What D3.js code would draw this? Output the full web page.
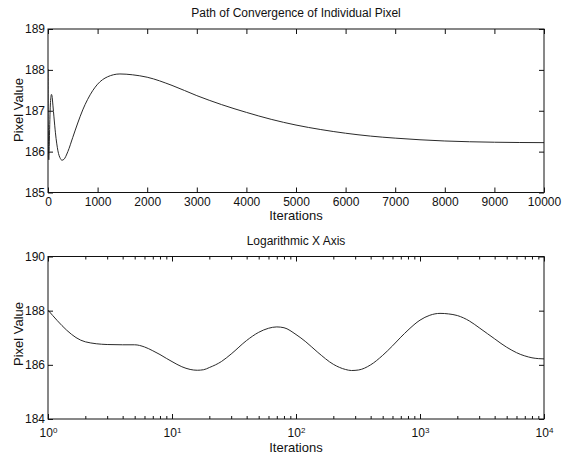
<!doctype html>
<html>
<head>
<meta charset="utf-8">
<script src="https://cdn.jsdelivr.net/npm/d3@7"></script>
<style>
  body { margin: 0; background: #fff; }
  text { font-family: "Liberation Sans", Arial, sans-serif; fill: #111; }
</style>
</head>
<body>
<script>
// data (iteration number, pixel value)
var iterations = [1, 2, 3, 4, 5, 6, 7, 8, 9, 10, 12, 14, 16, 18, 20, 25, 30, 40, 50, 60, 70, 80,
  100, 120, 150, 200, 250, 280, 320, 400, 500, 600, 700, 800, 1000, 1200, 1450, 1700, 2000,
  2500, 3000, 3500, 4000, 4500, 5000, 5500, 6000, 6500, 7000, 7500, 8000, 9000, 10000];
var pixelValues = [188.02, 186.85, 186.75, 186.74, 186.74, 186.66, 186.52, 186.38, 186.24, 186.12,
  185.93, 185.83, 185.8, 185.82, 185.9, 186.12, 186.4, 186.9, 187.2, 187.35, 187.4, 187.37,
  187.12, 186.85, 186.46, 186.02, 185.83, 185.79, 185.81, 186.0, 186.35, 186.7, 187.02, 187.28,
  187.65, 187.83, 187.9, 187.88, 187.82, 187.62, 187.37, 187.15, 186.96, 186.79, 186.65, 186.54,
  186.45, 186.38, 186.33, 186.29, 186.26, 186.23, 186.22];

var linTicks = [0, 1000, 2000, 3000, 4000, 5000, 6000, 7000, 8000, 9000, 10000];
var topYTicks = [185, 186, 187, 188, 189];
var logTicks = [1, 10, 100, 1000, 10000];
var botYTicks = [184, 186, 188, 190];

var data = iterations.map(function (d, i) { return { it: d, v: pixelValues[i] }; });

var W = 562, H = 456;
var svg = d3.select("body").append("svg").attr("width", W).attr("height", H);
svg.append("rect").attr("width", W).attr("height", H).attr("fill", "#fff");

var left = 48, right = 544;

function panel(top, bottom, x, y, title) {
  var g = svg.append("g");
  var clipId = "clip" + Math.round(top);
  svg.append("clipPath").attr("id", clipId).append("rect")
    .attr("x", left).attr("y", top).attr("width", right - left).attr("height", bottom - top);

  // curve
  var line = d3.line().x(function (d) { return x(d.it); }).y(function (d) { return y(d.v); })
    .curve(d3.curveMonotoneX);
  g.append("path").datum(data).attr("d", line).attr("fill", "none")
    .attr("stroke", "#2a2a2a").attr("stroke-width", 1).attr("clip-path", "url(#" + clipId + ")");

  // box
  g.append("rect").attr("x", left).attr("y", top).attr("width", right - left).attr("height", bottom - top)
    .attr("fill", "none").attr("stroke", "#111").attr("stroke-width", 1);

  g.append("text").attr("x", (left + right) / 2).attr("y", top - 12).attr("text-anchor", "middle")
    .style("font-size", "12px").text(title);
  return g;
}

// ---- top panel: linear x
var t0 = 29, t1 = 192.5;
var x1 = d3.scaleLinear().domain([0, 10000]).range([left, right]);
var y1 = d3.scaleLinear().domain([185, 189]).range([t1, t0]);
var g1 = panel(t0, t1, x1, y1, "Path of Convergence of Individual Pixel");

g1.append("g").attr("transform", "translate(0," + t1 + ")")
  .call(d3.axisBottom(x1).tickValues(linTicks).tickSizeInner(-5).tickSizeOuter(0).tickPadding(5).tickFormat(d3.format("d")));
g1.append("g").attr("transform", "translate(0," + t0 + ")")
  .call(d3.axisTop(x1).tickValues(linTicks).tickSizeInner(-5).tickSizeOuter(0).tickFormat(""));
g1.append("g").attr("transform", "translate(" + left + ",0)")
  .call(d3.axisLeft(y1).tickValues(topYTicks).tickSizeInner(-5).tickSizeOuter(0).tickPadding(3).tickFormat(d3.format("d")));
g1.append("g").attr("transform", "translate(" + right + ",0)")
  .call(d3.axisRight(y1).tickValues(topYTicks).tickSizeInner(-5).tickSizeOuter(0).tickFormat(""));

g1.append("text").attr("x", (left + right) / 2).attr("y", 220).attr("text-anchor", "middle")
  .style("font-size", "13px").text("Iterations");
g1.append("text").attr("transform", "translate(23,110) rotate(-90)").attr("text-anchor", "middle")
  .style("font-size", "13px").text("Pixel Value");

// ---- bottom panel: log x
var b0 = 256.5, b1 = 419;
var x2 = d3.scaleLog().domain([1, 10000]).range([left, right]);
var y2 = d3.scaleLinear().domain([184, 190]).range([b1, b0]);
var g2 = panel(b0, b1, x2, y2, "Logarithmic X Axis");

var minor = [];
logTicks.slice(0, -1).forEach(function (d) { for (var k = 2; k < 10; k++) minor.push(d * k); });

g2.append("g").attr("transform", "translate(0," + b1 + ")")
  .call(d3.axisBottom(x2).tickValues(minor).tickSizeInner(-3).tickSizeOuter(0).tickFormat(""));
g2.append("g").attr("transform", "translate(0," + b0 + ")")
  .call(d3.axisTop(x2).tickValues(minor).tickSizeInner(-3).tickSizeOuter(0).tickFormat(""));
g2.append("g").attr("transform", "translate(0," + b0 + ")")
  .call(d3.axisTop(x2).tickValues(logTicks).tickSizeInner(-5).tickSizeOuter(0).tickFormat(""));
var xb = g2.append("g").attr("transform", "translate(0," + b1 + ")")
  .call(d3.axisBottom(x2).tickValues(logTicks).tickSizeInner(-5).tickSizeOuter(0).tickPadding(9).tickFormat(""));
xb.selectAll(".tick text").each(function (d) {
  var t = d3.select(this).style("font-size", "12px");
  t.append("tspan").text("10");
  t.append("tspan").attr("dy", "-0.45em").style("font-size", "8px").text(Math.round(Math.log10(d)));
});
g2.append("g").attr("transform", "translate(" + left + ",0)")
  .call(d3.axisLeft(y2).tickValues(botYTicks).tickSizeInner(-5).tickSizeOuter(0).tickPadding(3).tickFormat(d3.format("d")));
g2.append("g").attr("transform", "translate(" + right + ",0)")
  .call(d3.axisRight(y2).tickValues(botYTicks).tickSizeInner(-5).tickSizeOuter(0).tickFormat(""));

g2.append("text").attr("x", (left + right) / 2).attr("y", 452).attr("text-anchor", "middle")
  .style("font-size", "13px").text("Iterations");
g2.append("text").attr("transform", "translate(23,334) rotate(-90)").attr("text-anchor", "middle")
  .style("font-size", "13px").text("Pixel Value");

svg.selectAll(".domain").remove();
svg.selectAll(".tick line").attr("stroke", "#111");
svg.selectAll(".tick text").attr("fill", "#111").style("font-family", "'Liberation Sans', Arial, sans-serif");
svg.selectAll("g > .tick text").filter(function () { return !this.style.fontSize; }).style("font-size", "12px");
</script>
</body>
</html>
